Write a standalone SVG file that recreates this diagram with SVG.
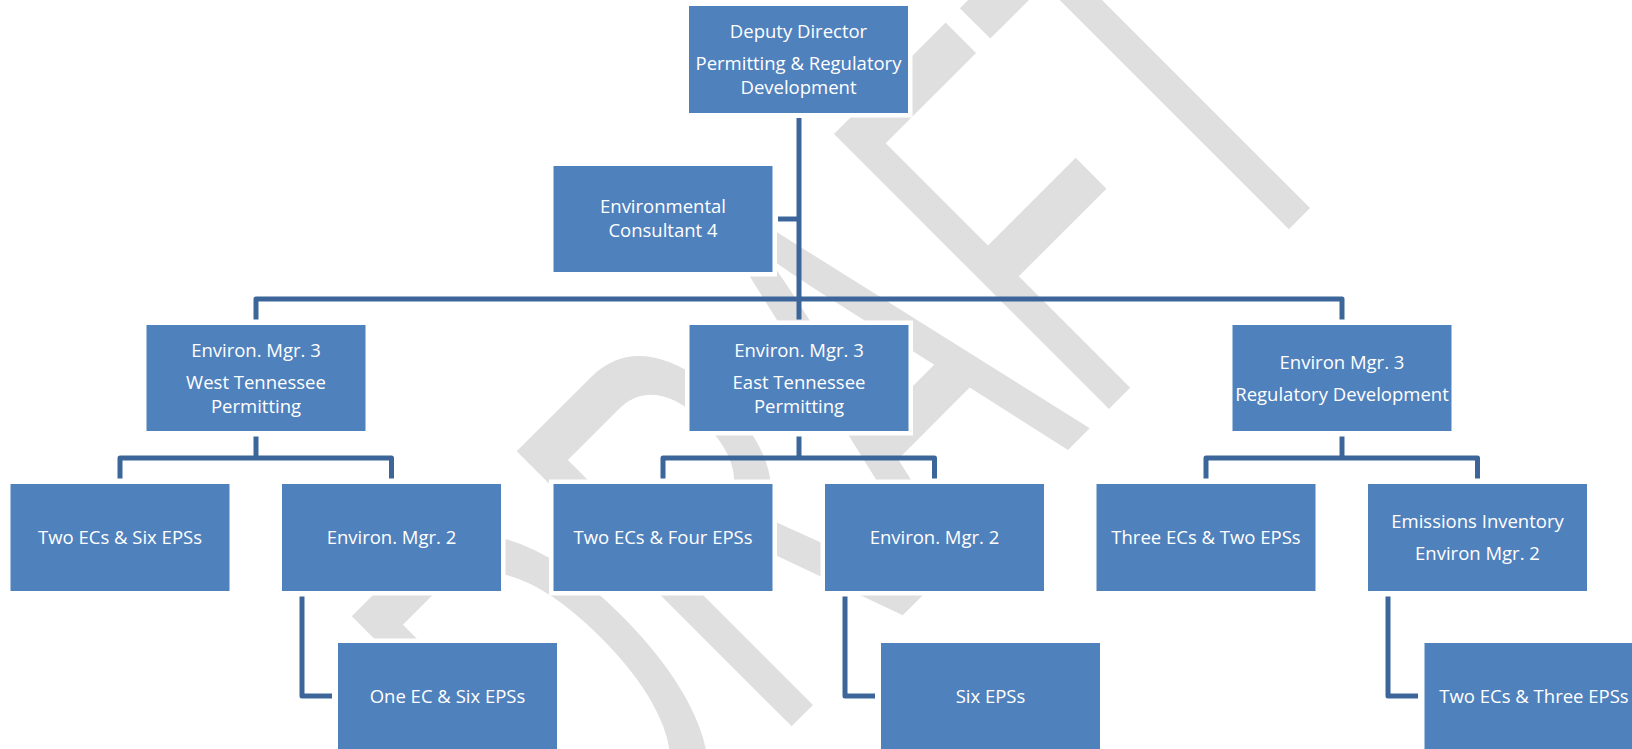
<svg xmlns="http://www.w3.org/2000/svg" width="1632" height="749" viewBox="0 0 1632 749">
  <style>
    .box { fill: #4f81bd; stroke: #ffffff; stroke-width: 9; paint-order: stroke fill; }
    .lbl { font-family: "Open Sans", "Liberation Sans", sans-serif; font-size: 18.5px; fill: #ffffff; text-anchor: middle; }
    .conn { fill: none; stroke: #3c669a; stroke-width: 5; stroke-linejoin: round; }
    .wm { font-family: "Liberation Sans", Arial, sans-serif; font-size: 323px; fill: #dfdfdf; }
  </style>
  <rect width="1632" height="749" fill="#ffffff"/>
  <g id="watermark">
    <text class="wm" x="0" y="0" transform="translate(608 910) rotate(-45) scale(1 1.75)">DRAFT</text>
  </g>
  <g id="connectors">
    <path class="conn" d="M799,118 V319.5"/>
    <path class="conn" d="M778,219 H799"/>
    <path class="conn" d="M256,319.5 V299 H1342 V319.5"/>
    <path class="conn" d="M256,436.5 V458"/>
    <path class="conn" d="M120,478.5 V458 H391.5 V478.5"/>
    <path class="conn" d="M799,436.5 V458"/>
    <path class="conn" d="M663,478.5 V458 H934.5 V478.5"/>
    <path class="conn" d="M1342,436.5 V458"/>
    <path class="conn" d="M1206,478.5 V458 H1477.5 V478.5"/>
    <path class="conn" d="M302,596.5 V696 H332"/>
    <path class="conn" d="M845,596.5 V696 H875"/>
    <path class="conn" d="M1388,596.5 V696 H1418"/>
  </g>
  <g id="deputy-director">
    <rect class="box" x="689" y="6" width="219" height="107"/>
    <text class="lbl" x="798.5" y="38">Deputy Director</text>
    <text class="lbl" x="798.5" y="70">Permitting &amp; Regulatory</text>
    <text class="lbl" x="798.5" y="94">Development</text>
  </g>
  <g id="env-consultant-4">
    <rect class="box" x="553.5" y="166" width="219" height="106"/>
    <text class="lbl" x="663" y="213">Environmental</text>
    <text class="lbl" x="663" y="237">Consultant 4</text>
  </g>
  <g id="west-mgr3">
    <rect class="box" x="146.5" y="325" width="219" height="106"/>
    <text class="lbl" x="256" y="357">Environ. Mgr. 3</text>
    <text class="lbl" x="256" y="389">West Tennessee</text>
    <text class="lbl" x="256" y="412.5">Permitting</text>
  </g>
  <g id="east-mgr3">
    <rect class="box" x="689.5" y="325" width="219" height="106"/>
    <text class="lbl" x="799" y="357">Environ. Mgr. 3</text>
    <text class="lbl" x="799" y="389">East Tennessee</text>
    <text class="lbl" x="799" y="412.5">Permitting</text>
  </g>
  <g id="reg-mgr3">
    <rect class="box" x="1232.5" y="325" width="219" height="106"/>
    <text class="lbl" x="1342" y="368.5">Environ Mgr. 3</text>
    <text class="lbl" x="1342" y="400.5">Regulatory Development</text>
  </g>
  <g id="west-staff">
    <rect class="box" x="10.5" y="484" width="219" height="107"/>
    <text class="lbl" x="120" y="544">Two ECs &amp; Six EPSs</text>
  </g>
  <g id="west-mgr2">
    <rect class="box" x="282" y="484" width="219" height="107"/>
    <text class="lbl" x="391.5" y="544">Environ. Mgr. 2</text>
  </g>
  <g id="east-staff">
    <rect class="box" x="553.5" y="484" width="219" height="107"/>
    <text class="lbl" x="663" y="544">Two ECs &amp; Four EPSs</text>
  </g>
  <g id="east-mgr2">
    <rect class="box" x="825" y="484" width="219" height="107"/>
    <text class="lbl" x="934.5" y="544">Environ. Mgr. 2</text>
  </g>
  <g id="reg-staff">
    <rect class="box" x="1096.5" y="484" width="219" height="107"/>
    <text class="lbl" x="1206" y="544">Three ECs &amp; Two EPSs</text>
  </g>
  <g id="emissions-mgr2">
    <rect class="box" x="1368" y="484" width="219" height="107"/>
    <text class="lbl" x="1477.5" y="528">Emissions Inventory</text>
    <text class="lbl" x="1477.5" y="560">Environ Mgr. 2</text>
  </g>
  <g id="west-mgr2-staff">
    <rect class="box" x="338" y="643" width="219" height="110"/>
    <text class="lbl" x="447.5" y="703">One EC &amp; Six EPSs</text>
  </g>
  <g id="east-mgr2-staff">
    <rect class="box" x="881" y="643" width="219" height="110"/>
    <text class="lbl" x="990.5" y="703">Six EPSs</text>
  </g>
  <g id="emissions-staff">
    <rect class="box" x="1424.5" y="643" width="219" height="110"/>
    <text class="lbl" x="1534" y="703">Two ECs &amp; Three EPSs</text>
  </g>
</svg>
